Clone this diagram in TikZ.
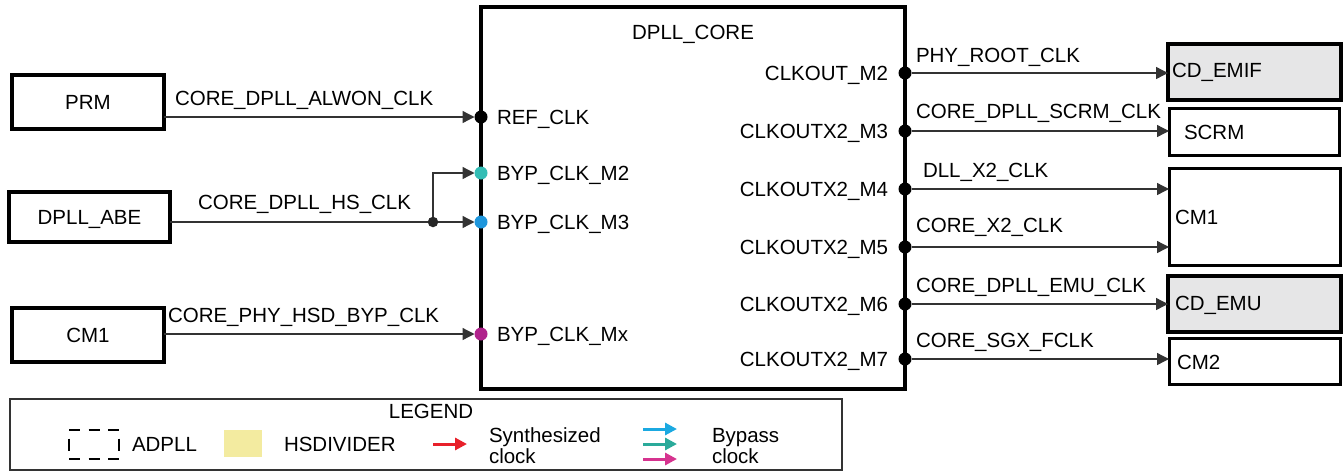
\documentclass[tikz,border=0pt]{standalone}
\usepackage{fontspec}
\setmainfont{Liberation Sans}
\usetikzlibrary{arrows.meta}
\definecolor{boxgray}{HTML}{E6E6E7}
\definecolor{lnk}{HTML}{333333}
\definecolor{dteal}{HTML}{33BDB5}
\definecolor{dblue}{HTML}{1E96DC}
\definecolor{dmag}{HTML}{B0228C}
\definecolor{lred}{HTML}{E8202A}
\definecolor{lblue}{HTML}{1BA9E1}
\definecolor{lteal}{HTML}{2AAA9A}
\definecolor{lmag}{HTML}{D6338F}
\definecolor{lyellow}{HTML}{F3EBA0}
\begin{document}
\begin{tikzpicture}[x=1pt,y=-1pt,
  font=\fontsize{20.5}{24}\selectfont,
  blk/.style={draw=black, line width=3.5pt, inner sep=0pt, outer sep=0pt, anchor=north west},
  conn/.style={draw=lnk, line width=1.3pt, -{Triangle[length=12pt,width=12pt]}},
  pdot/.style={circle, fill=#1, inner sep=0pt, outer sep=0pt, minimum size=13pt},
  txt/.style={inner sep=0pt, outer sep=0pt},
  larr/.style={draw=#1, line width=3pt, -{Triangle[length=12pt,width=12pt]}},
  hdash/.style={draw=black, line width=2.7pt, dash pattern=on 11pt off 8.5pt},
  vdash/.style={draw=black, line width=2.7pt, dash pattern=on 12pt off 17pt, dash phase=20.5pt}]
\useasboundingbox (0,0) rectangle (1343,472);

% main block
\node[blk, line width=4pt, minimum width=424, minimum height=382] (core) at (481,7) {};
\node[txt, anchor=base] (coret) at (693,39.5) {DPLL\_CORE};

% left sources
\node[blk, minimum width=152, minimum height=54] (prm) at (12,75) {};
\node[txt, anchor=base] (prmt) at (88,109.5) {PRM};
\node[blk, minimum width=161, minimum height=50] (abe) at (9,192) {};
\node[txt, anchor=base] (abet) at (89.5,224.5) {DPLL\_ABE};
\node[blk, minimum width=152, minimum height=54] (cmA) at (12,308) {};
\node[txt, anchor=base] (cmAt) at (88,342.5) {CM1};

% input dots
\node[pdot=black] (ref) at (481,117) {};
\node[pdot=dteal] (bm2) at (481,173) {};
\node[pdot=dblue] (bm3) at (481,222) {};
\node[pdot=dmag] (bmx) at (481,334) {};
\node[circle, fill=black!85, inner sep=0pt, minimum size=10.5pt] (jn) at (433,222) {};

% input connectors
\draw[conn] (prm.east |- ref) -- (ref.west);
\draw[draw=lnk, line width=1.3pt] (abe.east |- bm3) -- (jn);
\draw[conn] (jn) -- (bm3.west);
\draw[conn] (jn) -- (jn |- bm2) -- (bm2.west);
\draw[conn] (cmA.east |- bmx) -- (bmx.west);

\node[txt, anchor=base west] (l1) at (175,105) {CORE\_DPLL\_ALWON\_CLK};
\node[txt, anchor=base west] (l2) at (198,209) {CORE\_DPLL\_HS\_CLK};
\node[txt, anchor=base west] (l3) at (168,322) {CORE\_PHY\_HSD\_BYP\_CLK};

% input port labels
\node[txt, anchor=base west] (p1) at (497,124.5) {REF\_CLK};
\node[txt, anchor=base west] (p2) at (497,180.5) {BYP\_CLK\_M2};
\node[txt, anchor=base west] (p3) at (497,229.5) {BYP\_CLK\_M3};
\node[txt, anchor=base west] (p4) at (497,341.5) {BYP\_CLK\_Mx};

% output dots
\node[pdot=black] (o1) at (905,73) {};
\node[pdot=black] (o2) at (905,131) {};
\node[pdot=black] (o3) at (905,189) {};
\node[pdot=black] (o4) at (905,247) {};
\node[pdot=black] (o5) at (905,304) {};
\node[pdot=black] (o6) at (905,359) {};

% output port labels
\node[txt, anchor=base east] (q1) at (888,80.5) {CLKOUT\_M2};
\node[txt, anchor=base east] (q2) at (888,138.5) {CLKOUTX2\_M3};
\node[txt, anchor=base east] (q3) at (888,196.5) {CLKOUTX2\_M4};
\node[txt, anchor=base east] (q4) at (888,254.5) {CLKOUTX2\_M5};
\node[txt, anchor=base east] (q5) at (888,311.5) {CLKOUTX2\_M6};
\node[txt, anchor=base east] (q6) at (888,366.5) {CLKOUTX2\_M7};

% right destination boxes
\node[blk, fill=boxgray, minimum width=173, minimum height=56] (emif) at (1168,44) {};
\node[txt, anchor=base west] (emift) at (1172,77.5) {CD\_EMIF};
\node[blk, line width=3pt, minimum width=170, minimum height=47] (scrm) at (1169,108) {};
\node[txt, anchor=base west] (scrmt) at (1184,139) {SCRM};
\node[blk, line width=3pt, minimum width=171, minimum height=97] (cmB) at (1169,168) {};
\node[txt, anchor=base west] (cmBt) at (1175,224) {CM1};
\node[blk, fill=boxgray, minimum width=173, minimum height=56] (emu) at (1168,276) {};
\node[txt, anchor=base west] (emut) at (1175,310) {CD\_EMU};
\node[blk, line width=3pt, minimum width=171, minimum height=46] (cm2) at (1169,338) {};
\node[txt, anchor=base west] (cm2t) at (1177,369) {CM2};

% output connectors
\draw[conn] (o1) -- (emif.west |- o1);
\draw[conn] (o2) -- (scrm.west |- o2);
\draw[conn] (o3) -- (cmB.west |- o3);
\draw[conn] (o4) -- (cmB.west |- o4);
\draw[conn] (o5) -- (emu.west |- o5);
\draw[conn] (o6) -- (cm2.west |- o6);

\node[txt, anchor=base west] (r1) at (916,62) {PHY\_ROOT\_CLK};
\node[txt, anchor=base west] (r2) at (916,118) {CORE\_DPLL\_SCRM\_CLK};
\node[txt, anchor=base west] (r3) at (923,177) {DLL\_X2\_CLK};
\node[txt, anchor=base west] (r4) at (916,232) {CORE\_X2\_CLK};
\node[txt, anchor=base west] (r5) at (916,292) {CORE\_DPLL\_EMU\_CLK};
\node[txt, anchor=base west] (r6) at (916,347) {CORE\_SGX\_FCLK};

% legend
\node[draw=lnk, line width=1.5pt, inner sep=0pt, outer sep=0pt, anchor=north west,
      minimum width=832, minimum height=71] (leg) at (10,399) {};
\node[txt, anchor=base] (legt) at (431,418) {LEGEND};
\node[inner sep=0pt, outer sep=0pt, anchor=north west, minimum width=50, minimum height=29] (ladpll) at (69,430) {};
\draw[hdash] (ladpll.north west) -- (ladpll.north east);
\draw[hdash] (ladpll.south west) -- (ladpll.south east);
\draw[vdash] (ladpll.north west) -- (ladpll.south west);
\draw[vdash] (ladpll.north east) -- (ladpll.south east);
\node[txt, anchor=base west] (ladpllt) at (132,451.5) {ADPLL};
\node[fill=lyellow, inner sep=0pt, anchor=north west, minimum width=38, minimum height=27] (lhsd) at (224,430) {};
\node[txt, anchor=base west] (lhsdt) at (284,451.5) {HSDIVIDER};
\coordinate (ra) at (433,444); \coordinate (rb) at (467,444);
\draw[larr=lred] (ra) -- (rb);
\node[txt, anchor=base west] (lsyn1) at (489,442) {Synthesized};
\node[txt, anchor=base west] (lsyn2) at (489,463) {clock};
\coordinate (ba) at (643,429); \coordinate (bb) at (677,429);
\coordinate (ta) at (643,444); \coordinate (tb) at (677,444);
\coordinate (ma) at (643,459); \coordinate (mb) at (677,459);
\draw[larr=lblue] (ba) -- (bb);
\draw[larr=lteal] (ta) -- (tb);
\draw[larr=lmag] (ma) -- (mb);
\node[txt, anchor=base west] (lbyp1) at (712,442) {Bypass};
\node[txt, anchor=base west] (lbyp2) at (712,463) {clock};
\end{tikzpicture}
\end{document}
